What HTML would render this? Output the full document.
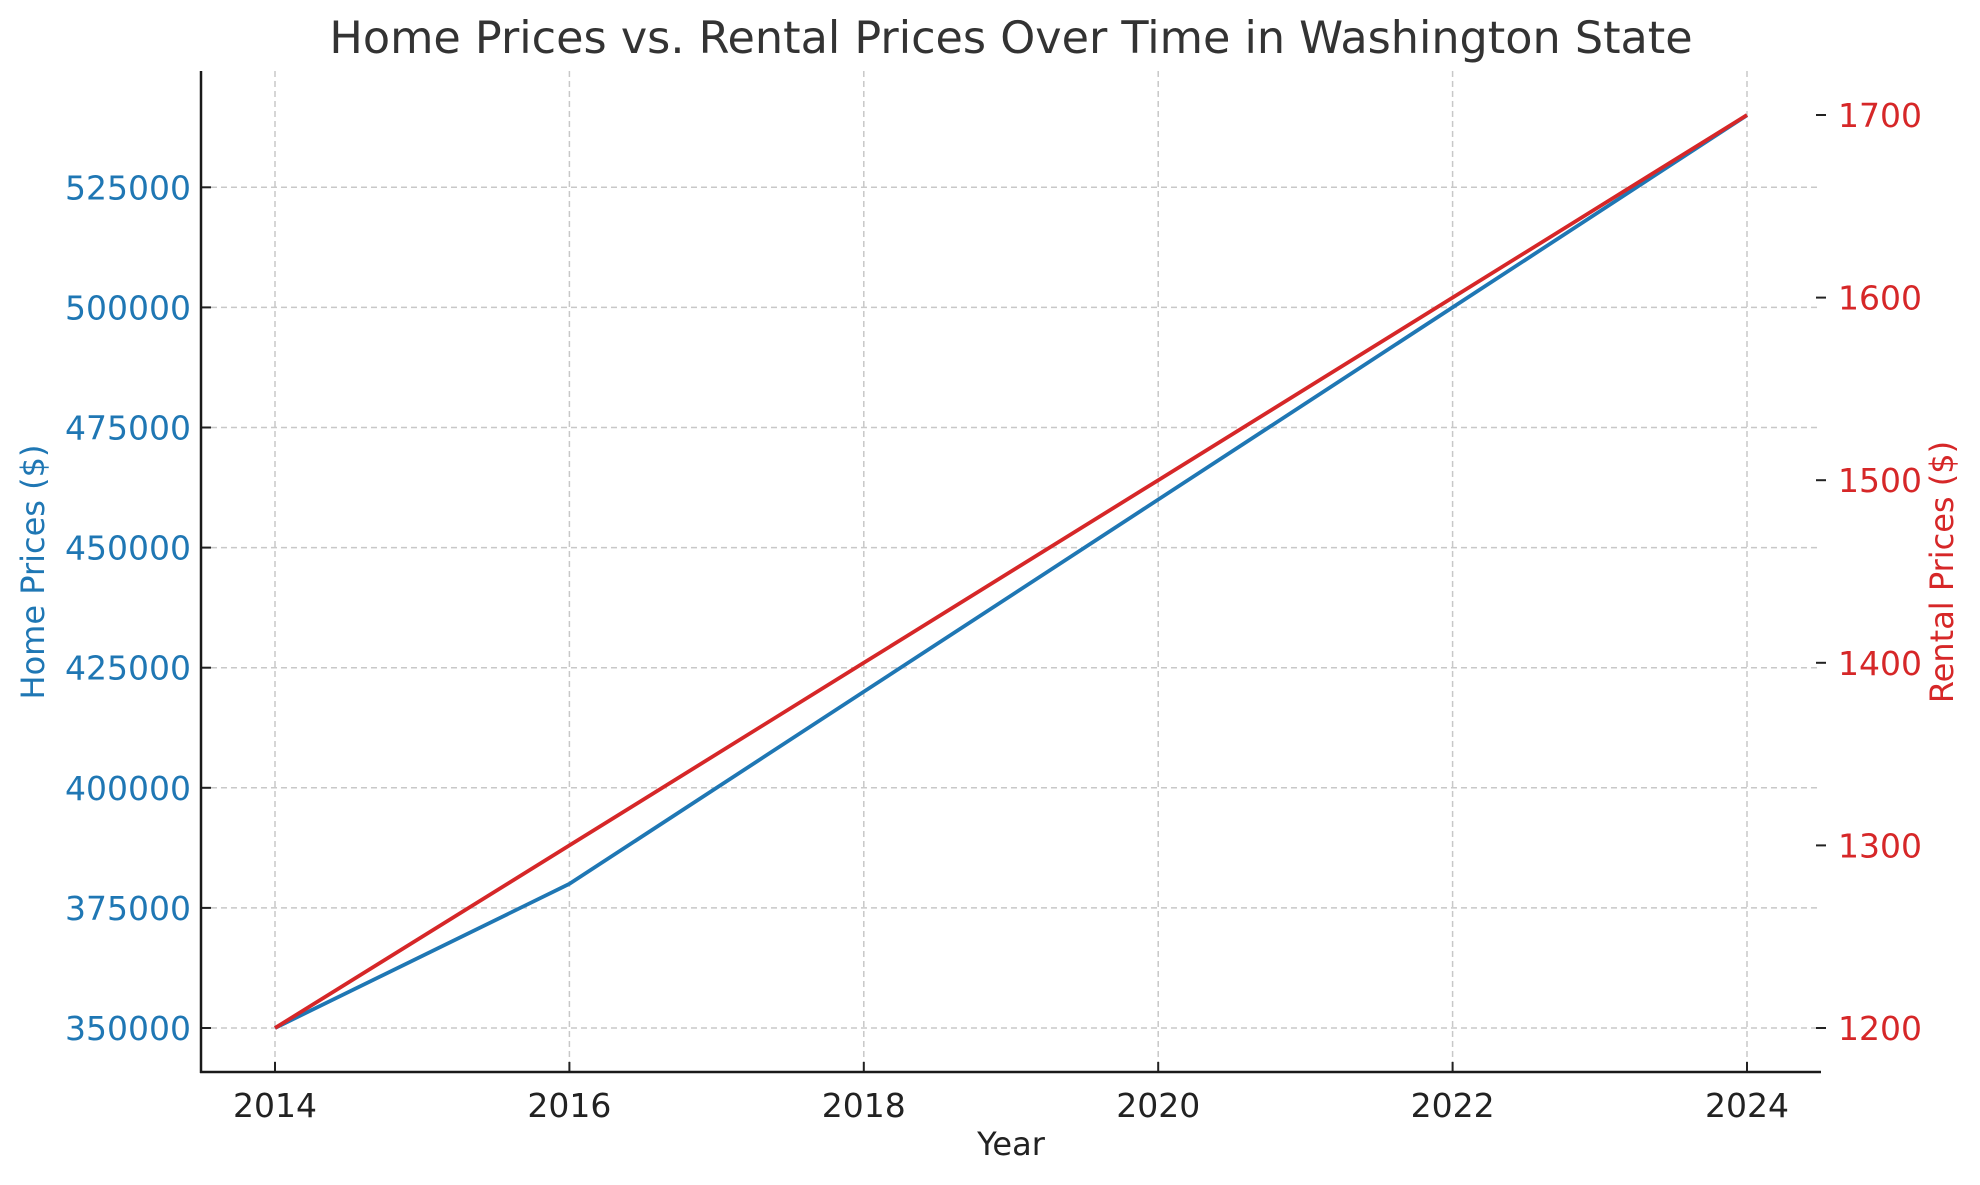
<!DOCTYPE html>
<html><head><meta charset="utf-8"><style>
body{margin:0;background:#fff;}
svg text{font-family:"DejaVu Sans","Liberation Sans",sans-serif;}
</style></head><body>
<svg id="chart" width="1980" height="1180" xmlns="http://www.w3.org/2000/svg">
<text x="1011" y="53" font-size="44.5" fill="#333" text-anchor="middle">Home Prices vs. Rental Prices Over Time in Washington State</text>
<g id="grid"></g>
<g id="axes"></g>
<g id="series"></g>
<text x="1011" y="1155" font-size="32" fill="#222" text-anchor="middle">Year</text>
<text transform="translate(44,572) rotate(-90)" font-size="32" fill="#1f77b4" text-anchor="middle">Home Prices ($)</text>
<text transform="translate(1953,572) rotate(-90)" font-size="32" fill="#d62728" text-anchor="middle">Rental Prices ($)</text>
</svg>
<script>
const years = [2014, 2016, 2018, 2020, 2022, 2024];
const homePrices = [350000, 380000, 420000, 460000, 500000, 540000];
const rentalPrices = [1200, 1300, 1400, 1500, 1600, 1700];
const xTicks = [2014, 2016, 2018, 2020, 2022, 2024];
const leftTicks = [350000, 375000, 400000, 425000, 450000, 475000, 500000, 525000];
const rightTicks = [1200, 1300, 1400, 1500, 1600, 1700];

const NS = "http://www.w3.org/2000/svg";
const L = 201, R = 1821, T = 71, B = 1072;
const x = v => 275 + (v - 2014) * 147.2;
const yL = v => 1028 - (v - 350000) / 25000 * 120.1;
const yR = v => 1028 - (v - 1200) / 100 * 182.6;
function mk(tag, attrs, parent) {
  const e = document.createElementNS(NS, tag);
  for (const k in attrs) e.setAttribute(k, attrs[k]);
  parent.appendChild(e);
  return e;
}
const grid = document.getElementById('grid'), axes = document.getElementById('axes'), series = document.getElementById('series');
xTicks.forEach(t => {
  const g = mk('line', {x1: x(t), x2: x(t), y1: T, y2: B, stroke: '#c8c8c8', 'stroke-width': 1.5, 'stroke-dasharray': '6,4'}, grid);
  
  
  const tk = mk('line', {x1: x(t), x2: x(t), y1: B, y2: B - 10, stroke: '#222', 'stroke-width': 2}, axes);
  
  
  const lb = mk('text', {x: x(t), y: B + 45, 'font-size': 33, fill: '#222', 'text-anchor': 'middle'}, axes);
  lb.textContent = t;
  
  
});
leftTicks.forEach(t => {
  const g = mk('line', {x1: L, x2: R, y1: yL(t), y2: yL(t), stroke: '#c8c8c8', 'stroke-width': 1.5, 'stroke-dasharray': '6,4'}, grid);
  
  
  const tk = mk('line', {x1: L, x2: L + 10, y1: yL(t), y2: yL(t), stroke: '#222', 'stroke-width': 2}, axes);
  
  
  const lb = mk('text', {x: L - 10, y: yL(t) + 12, 'font-size': 33, fill: '#1f77b4', 'text-anchor': 'end'}, axes);
  lb.textContent = t;
  
  
});
rightTicks.forEach(t => {
  const tk = mk('line', {x1: R - 5, x2: R + 5, y1: yR(t), y2: yR(t), stroke: '#222', 'stroke-width': 2}, axes);
  
  
  const lb = mk('text', {x: R + 17, y: yR(t) + 12, 'font-size': 33, fill: '#d62728'}, axes);
  lb.textContent = t;
  
  
});
const sl = mk('line', {x1: L, x2: L, y1: T, y2: B + 1, stroke: '#1a1a1a', 'stroke-width': 2.5}, axes);


const sb = mk('line', {x1: L - 1, x2: R, y1: B, y2: B, stroke: '#1a1a1a', 'stroke-width': 2.5}, axes);


const hp = mk('polyline', {points: years.map((v, i) => x(v) + ',' + yL(homePrices[i])).join(' '), fill: 'none', stroke: '#1f77b4', 'stroke-width': 3.8}, series);


const rp = mk('polyline', {points: years.map((v, i) => x(v) + ',' + yR(rentalPrices[i])).join(' '), fill: 'none', stroke: '#d62728', 'stroke-width': 3.8}, series);


</script>
</body></html>
